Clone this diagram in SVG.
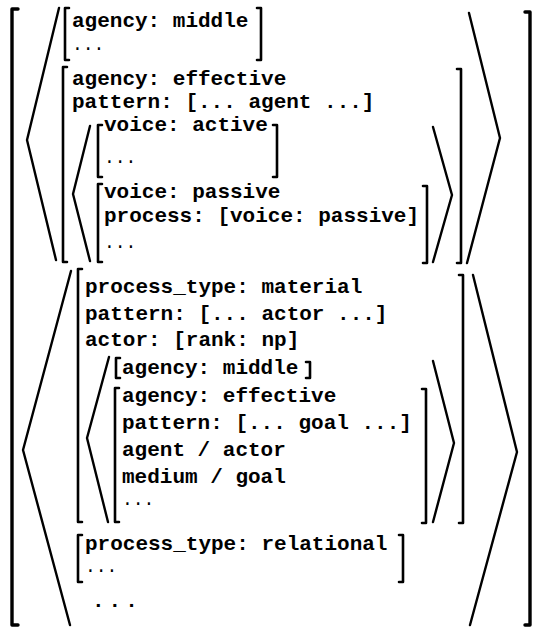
<svg xmlns="http://www.w3.org/2000/svg" width="533" height="629" viewBox="0 0 533 629">
<style>
.bk{fill:none;stroke:#000;stroke-width:2.6;stroke-linecap:round;stroke-linejoin:round}
.ob{fill:none;stroke:#000;stroke-width:3.4;stroke-linecap:round;stroke-linejoin:round}
.an{fill:none;stroke:#000;stroke-width:2.4;stroke-linecap:round;stroke-linejoin:round}
.t{font-family:"Courier New","Liberation Mono",monospace;font-weight:bold;font-size:21px;fill:#000}
.d{font-family:"Courier New","Liberation Mono",monospace;font-weight:normal;font-size:18px;fill:#000}
</style>
<rect width="533" height="629" fill="#fff"/>
<g id="outer">
<path class="ob" d="M18 9 H12 V625 H18"/>
<path class="ob" d="M525 12 H530 V625 H525"/>
</g>
<g id="group1">
<path class="an" d="M59 8 L27 140 L56 260"/>
<path class="an" d="M469 13 L500 138 L467 263"/>
<g id="agency-middle">
<path class="bk" d="M69 8 H65 V60 H69"/>
<path class="bk" d="M257 8 H261 V60 H257"/>
<text class="t" x="72" y="27">agency: middle</text>
<text class="d" x="72" y="50">...</text>
</g>
<g id="agency-effective">
<path class="bk" d="M67 67 H63 V262 H67"/>
<path class="bk" d="M457 69 H461 V263 H457"/>
<text class="t" x="72" y="85">agency: effective</text>
<text class="t" x="72" y="108">pattern: [... agent ...]</text>
<path class="an" d="M90 126 L73 194 L90 261"/>
<path class="an" d="M433 127 L452 195 L433 262"/>
<g id="voice-active">
<path class="bk" d="M102 125 H98 V177 H102"/>
<path class="bk" d="M273 125 H277 V177 H273"/>
<text class="t" x="104" y="131">voice: active</text>
<text class="d" x="104" y="163">...</text>
</g>
<g id="voice-passive">
<path class="bk" d="M102 184 H98 V262 H102"/>
<path class="bk" d="M423 186 H427 V263 H423"/>
<text class="t" x="104" y="198">voice: passive</text>
<text class="t" x="104" y="222">process: [voice: passive]</text>
<text class="d" x="104" y="248">...</text>
</g>
</g>
</g>
<g id="group2">
<path class="an" d="M71 271 L23 450 L70 625"/>
<path class="an" d="M473 275 L517 452 L470 625"/>
<g id="material">
<path class="bk" d="M82 269 H78 V522 H82"/>
<path class="bk" d="M459 275 H463 V523 H459"/>
<text class="t" x="85" y="293">process_type: material</text>
<text class="t" x="85" y="320">pattern: [... actor ...]</text>
<text class="t" x="85" y="346">actor: [rank: np]</text>
<path class="an" d="M109 357 L87 438 L108 522"/>
<path class="an" d="M433 361 L454 443 L433 522"/>
<g id="inner-middle">
<path class="bk" d="M120 358 H116 V378 H120"/>
<path class="bk" d="M306 362 H310 V378 H306"/>
<text class="t" x="122" y="374">agency: middle</text>
</g>
<g id="inner-effective">
<path class="bk" d="M119 388 H115 V522 H119"/>
<path class="bk" d="M422 389 H426 V523 H422"/>
<text class="t" x="122" y="402">agency: effective</text>
<text class="t" x="122" y="429">pattern: [... goal ...]</text>
<text class="t" x="122" y="456">agent / actor</text>
<text class="t" x="122" y="483">medium / goal</text>
<text class="d" x="122" y="505">...</text>
</g>
</g>
<g id="relational">
<path class="bk" d="M82 535 H78 V582 H82"/>
<path class="bk" d="M399 535 H403 V582 H399"/>
<text class="t" x="85" y="550">process_type: relational</text>
<text class="d" x="85" y="572">...</text>
</g>
<text class="t" x="92" y="607" letter-spacing="4">...</text>
</g>
</svg>
